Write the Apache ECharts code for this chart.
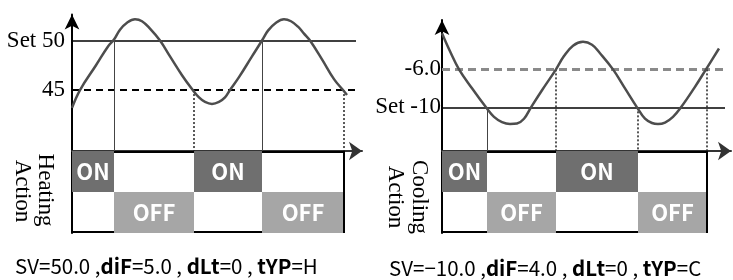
<!DOCTYPE html>
<html>
<head>
<meta charset="utf-8">
<script src="https://cdn.jsdelivr.net/npm/echarts@6/dist/echarts.min.js"></script>
<style>
html,body{margin:0;padding:0;background:#fff;}
#chart{width:733px;height:280px;}
</style>
</head>
<body>
<div id="chart"></div>
<script>
// ---------- data (time units are arbitrary) ----------
// Heating panel
const heatTime = [0, 8, 24, 36, 42, 48, 55, 63, 70, 78, 88, 98, 110, 120, 127, 133, 140, 147, 153, 158, 167, 180, 190, 196, 204, 212, 219, 226, 232, 238, 250, 262, 271, 275];
const heatTemp = [43.2, 45.0, 47.5, 49.4, 50.1, 51.1, 51.8, 52.15, 51.95, 51.2, 50.0, 48.4, 46.5, 45.1, 44.25, 43.8, 43.6, 43.8, 44.25, 45.0, 46.3, 48.4, 50.0, 51.0, 51.8, 52.15, 51.95, 51.4, 50.7, 50.0, 48.1, 46.1, 45.0, 44.5];
const heatSet = 50;
const heatLow = 45;
const heatSwitchTime  = [42, 122, 190, 272];
const heatSwitchLevel = [50, 45, 50, 45];
const heatStates = ['ON', 'OFF', 'ON', 'OFF'];
const heatLabels = ['Set 50', '45'];
const heatActionLines = ['Heating', 'Action'];
const heatCaption = [['SV', '50.0'], ['diF', '5.0'], ['dLt', '0'], ['tYP', 'H']];

// Cooling panel
const coolTime = [0, 8, 17, 30, 44, 52, 60, 68, 75, 82, 89, 100, 114, 122, 131, 141, 150, 158, 171, 183, 195, 203, 210, 216, 223, 231, 239, 252, 264, 277];
const coolTemp = [-2.2, -4.1, -6.0, -8.0, -10.0, -11.0, -11.55, -11.75, -11.7, -11.2, -10.0, -8.2, -6.0, -4.6, -3.5, -3.1, -3.4, -4.3, -6.0, -8.0, -10.0, -11.2, -11.65, -11.76, -11.6, -11.0, -10.0, -8.0, -6.0, -3.8];
const coolSet = -10;
const coolHigh = -6;
const coolSwitchTime  = [45, 114, 196, 265];
const coolSwitchLevel = [-10, -6, -10, -6];
const coolStates = ['ON', 'OFF', 'ON', 'OFF'];
const coolLabels = ['-6.0', 'Set -10'];
const coolActionLines = ['Cooling', 'Action'];
const coolCaption = [['SV', '\u221210.0'], ['diF', '4.0'], ['dLt', '0'], ['tYP', 'C']];

// ---------- styling / building ----------
const ON_COLOR = '#6f6f6f';
const OFF_COLOR = '#a6a6a6';
const SERIF = '"Liberation Serif","DejaVu Serif",serif';
const SANS = '"Noto Sans CJK KR","Noto Sans",sans-serif';

function blocks(switchTimes, states) {
  const out = [];
  let start = 0;
  switchTimes.forEach((t, i) => {
    out.push([start, t, states[i] === 'ON' ? 1 : 0]);
    start = t;
  });
  return out;
}

function renderBlock(params, api) {
  const s = api.value(0), e = api.value(1), on = api.value(2);
  const pTop = api.coord([s, 2]);
  const pMid = api.coord([s, 1]);
  const pBot = api.coord([s, 0]);
  const x0 = pTop[0];
  const x1 = api.coord([e, 0])[0];
  const yTop = pTop[1], yMid = pMid[1], yBot = pBot[1];
  const children = [];
  const txt = (t, cy) => ({type: 'text', style: {text: t, x: (x0 + x1) / 2, y: cy, align: 'center', verticalAlign: 'middle', fill: '#fff', fontFamily: SANS, fontWeight: 'bold', fontSize: 22}});
  if (on) {
    children.push({type: 'rect', shape: {x: x0, y: yTop, width: x1 - x0, height: yMid - yTop}, style: {fill: ON_COLOR}});
    children.push({type: 'line', shape: {x1: x0, y1: yBot - 1, x2: x1, y2: yBot - 1}, style: {stroke: '#000', lineWidth: 2}});
    children.push(txt('ON', (yTop + yMid) / 2));
  } else {
    children.push({type: 'rect', shape: {x: x0, y: yMid, width: x1 - x0, height: yBot - yMid}, style: {fill: OFF_COLOR}});
    children.push({type: 'line', shape: {x1: x0, y1: yTop + 1, x2: x1, y2: yTop + 1}, style: {stroke: '#000', lineWidth: 2}});
    children.push(txt('OFF', (yMid + yBot) / 2));
  }
  if (params.dataIndex === 3) {
    children.push({type: 'line', shape: {x1: x1, y1: yTop, x2: x1, y2: yBot}, style: {stroke: '#000', lineWidth: 2}});
  }
  return {type: 'group', children};
}

function connectorLines(times, levels, yMin, styles) {
  return times.map((t, i) => [
    {coord: [t, levels[i]], lineStyle: styles[i]},
    {coord: [t, yMin]}
  ]);
}

const SOLID_THIN = {type: 'solid', color: '#444', width: 1};
const DOTTED = {type: [2, 2], color: '#222', width: 1.5};

const heatYMin = 38.84, heatYMax = 52.63;
const coolYMin = -14.6, coolYMax = -0.8;

const captionRich = {
  n: {fontFamily: SANS, fontSize: 20.5, color: '#3a3a3a'},
  b: {fontFamily: SANS, fontSize: 20.5, color: '#000', fontWeight: 'bold'}
};
function captionText(parts) {
  return parts.map((p, i) => {
    const key = i === 0 ? '{n|' + p[0] + '}' : '{b|' + p[0] + '}';
    const sep = i < parts.length - 1 ? (i === 0 ? ' ,' : ' , ') : '';
    return key + '{n|=' + p[1] + sep + '}';
  }).join('');
}

function tempYAxis(gridIndex, min, max, labels, values, margin) {
  return {
    type: 'value', gridIndex, min, max,
    axisLine: {show: true, onZero: false, symbol: ['none', 'arrow'], symbolSize: [11, 15], lineStyle: {color: '#000', width: 2}},
    axisTick: {show: false},
    splitLine: {show: false},
    axisLabel: {
      show: true, customValues: values, margin,
      formatter: v => labels[values.indexOf(v)] !== undefined ? labels[values.indexOf(v)] : '',
      fontFamily: SERIF, fontSize: 23, color: '#000'
    }
  };
}
function timeXAxis(gridIndex, max) {
  return {
    type: 'value', gridIndex, min: 0, max,
    axisLine: {show: true, onZero: false, symbol: ['none', 'arrow'], symbolSize: [14, 13], lineStyle: {color: '#333', width: 2}},
    axisTick: {show: false}, axisLabel: {show: false}, splitLine: {show: false}
  };
}
function actionYAxis(gridIndex) {
  return {
    type: 'value', gridIndex, min: 0, max: 2,
    axisLine: {show: true, onZero: false, lineStyle: {color: '#000', width: 2}},
    axisTick: {show: false}, axisLabel: {show: false}, splitLine: {show: false}
  };
}
function hiddenX(gridIndex, max) {
  return {type: 'value', gridIndex, min: 0, max, show: false};
}
function vText(x, y, text) {
  return {type: 'text', x, y, rotation: -Math.PI / 2, style: {text, fontFamily: SERIF, fontSize: 23, fill: '#000', align: 'center', verticalAlign: 'middle'}};
}

const option = {
  animation: false,
  backgroundColor: '#fff',
  grid: [
    {left: 72, top: 14.5, width: 290, height: 136.5, outerBoundsMode: 'none'},
    {left: 72, top: 151, width: 290, height: 82, outerBoundsMode: 'none'},
    {left: 442, top: 20, width: 289, height: 131, outerBoundsMode: 'none'},
    {left: 442, top: 151, width: 289, height: 82, outerBoundsMode: 'none'}
  ],
  xAxis: [timeXAxis(0, 290), hiddenX(1, 290), timeXAxis(2, 289), hiddenX(3, 289)],
  yAxis: [
    tempYAxis(0, heatYMin, heatYMax, heatLabels, [heatSet, heatLow], 7),
    actionYAxis(1),
    tempYAxis(2, coolYMin, coolYMax, coolLabels, [coolHigh, coolSet], 1),
    actionYAxis(3)
  ],
  series: [
    {
      type: 'line', xAxisIndex: 0, yAxisIndex: 0, smooth: 0.4, symbol: 'none',
      data: heatTime.map((t, i) => [t, heatTemp[i]]),
      lineStyle: {color: '#4d4d4d', width: 2.5}, z: 5,
      markLine: {
        silent: true, symbol: 'none', label: {show: false}, animation: false,
        data: [
          [{coord: [0, heatSet], lineStyle: {type: 'solid', color: '#000', width: 1.5}}, {coord: [284, heatSet]}],
          [{coord: [0, heatLow], lineStyle: {type: [7, 5], color: '#000', width: 2}}, {coord: [286, heatLow]}]
        ].concat(connectorLines(heatSwitchTime, heatSwitchLevel, heatYMin, [SOLID_THIN, DOTTED, SOLID_THIN, DOTTED]))
      }
    },
    {
      type: 'custom', xAxisIndex: 1, yAxisIndex: 1, renderItem: renderBlock,
      data: blocks(heatSwitchTime, heatStates), z: 3
    },
    {
      type: 'line', xAxisIndex: 2, yAxisIndex: 2, smooth: 0.4, symbol: 'none',
      data: coolTime.map((t, i) => [t, coolTemp[i]]),
      lineStyle: {color: '#4d4d4d', width: 2.5}, z: 5,
      markLine: {
        silent: true, symbol: 'none', label: {show: false}, animation: false,
        data: [
          [{coord: [0, coolSet], lineStyle: {type: 'solid', color: '#000', width: 1.5}}, {coord: [283, coolSet]}],
          [{coord: [0, coolHigh], lineStyle: {type: [8, 5], color: '#8a8a8a', width: 3}}, {coord: [281, coolHigh]}]
        ].concat(connectorLines(coolSwitchTime, coolSwitchLevel, coolYMin, [SOLID_THIN, DOTTED, DOTTED, DOTTED]))
      }
    },
    {
      type: 'custom', xAxisIndex: 3, yAxisIndex: 3, renderItem: renderBlock,
      data: blocks(coolSwitchTime, coolStates), z: 3
    }
  ],
  graphic: [
    vText(45, 190, heatActionLines[0]),
    vText(22, 191, heatActionLines[1]),
    vText(419, 197, coolActionLines[0]),
    vText(395, 197, coolActionLines[1]),
    {type: 'text', x: 15, y: 266, style: {text: captionText(heatCaption), rich: captionRich, verticalAlign: 'middle'}},
    {type: 'text', x: 389, y: 268, style: {text: captionText(coolCaption), rich: captionRich, verticalAlign: 'middle'}}
  ]
};

const chart = echarts.init(document.getElementById('chart'), null, {renderer: 'canvas'});
chart.setOption(option);
</script>
</body>
</html>
